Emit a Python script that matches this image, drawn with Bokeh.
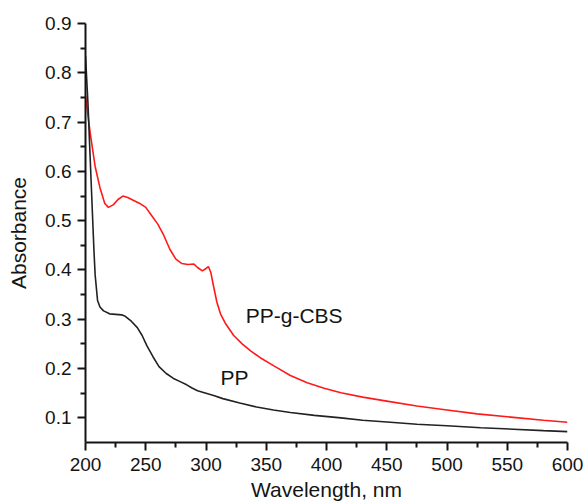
from bokeh.plotting import figure
from bokeh.models import Range1d, FixedTicker, Label
from bokeh.embed import file_html
from bokeh.resources import INLINE

# PP-g-CBS (red)
wl_cbs = [200, 204, 208, 212, 216, 219, 223, 227, 231, 235, 240, 245, 250, 255,
          260, 265, 270, 275, 280, 285, 290, 293, 297, 300, 302, 304, 306, 309,
          312, 316, 323, 330, 337, 345, 356, 370, 384, 398, 412, 430, 450, 475,
          500, 525, 555, 580, 600]
abs_cbs = [0.753, 0.676, 0.610, 0.567, 0.535, 0.527, 0.532, 0.543, 0.550, 0.547,
           0.541, 0.535, 0.527, 0.510, 0.493, 0.470, 0.442, 0.422, 0.413, 0.411,
           0.412, 0.405, 0.398, 0.403, 0.407, 0.395, 0.370, 0.335, 0.311, 0.292,
           0.267, 0.250, 0.236, 0.222, 0.206, 0.186, 0.171, 0.160, 0.151, 0.142,
           0.134, 0.124, 0.116, 0.108, 0.101, 0.095, 0.091]

# PP (black)
wl_pp = [200, 202, 204, 206, 207, 208, 210, 212, 215, 220, 225, 230, 233, 238,
         243, 247, 251, 256, 261, 267, 273, 279, 284, 288, 293, 300, 307, 314,
         328, 342, 356, 370, 390, 412, 430, 453, 475, 500, 528, 555, 580, 600]
abs_pp = [0.834, 0.740, 0.620, 0.500, 0.440, 0.390, 0.338, 0.325, 0.317, 0.311,
          0.310, 0.309, 0.306, 0.296, 0.283, 0.267, 0.246, 0.224, 0.204, 0.190,
          0.180, 0.173, 0.167, 0.161, 0.155, 0.150, 0.145, 0.139, 0.130, 0.122,
          0.116, 0.111, 0.105, 0.100, 0.095, 0.091, 0.087, 0.084, 0.080, 0.077,
          0.074, 0.072]

x_ticks = [200, 250, 300, 350, 400, 450, 500, 550, 600]
x_minor = [225, 275, 325, 375, 425, 475, 525, 575]
y_ticks = [0.1, 0.2, 0.3, 0.4, 0.5, 0.6, 0.7, 0.8, 0.9]
y_minor = [0.15, 0.25, 0.35, 0.45, 0.55, 0.65, 0.75, 0.85]

FONT = "Liberation Sans"
TXT = "#141414"

p = figure(width=585, height=503, output_backend="svg", toolbar_location=None,
           x_range=Range1d(200, 600), y_range=Range1d(0.05, 0.9),
           min_border_left=85, min_border_right=18, min_border_top=23,
           min_border_bottom=61)
p.outline_line_color = None
p.xgrid.visible = False
p.ygrid.visible = False
p.background_fill_color = "white"

p.line(wl_cbs, abs_cbs, line_color="#ff1a1a", line_width=1.6)
p.line(wl_pp, abs_pp, line_color="#222222", line_width=1.6)

p.xaxis.ticker = FixedTicker(ticks=x_ticks, minor_ticks=x_minor)
p.yaxis.ticker = FixedTicker(ticks=y_ticks, minor_ticks=y_minor)
p.yaxis.formatter.use_scientific = False

for ax in (p.xaxis, p.yaxis):
    ax.axis_line_width = 2
    ax.axis_line_color = TXT
    ax.major_tick_line_width = 2
    ax.minor_tick_line_width = 2
    ax.major_tick_line_color = TXT
    ax.minor_tick_line_color = TXT
    ax.major_tick_in = 0
    ax.minor_tick_in = 0
    ax.major_tick_out = 8
    ax.minor_tick_out = 5
    ax.major_label_text_font = FONT
    ax.major_label_text_font_size = "19px"
    ax.major_label_text_color = TXT
    ax.axis_label_text_font = FONT
    ax.axis_label_text_font_size = "21px"
    ax.axis_label_text_font_style = "normal"
    ax.axis_label_text_color = TXT

p.xaxis.axis_label = "Wavelength, nm"
p.yaxis.axis_label = "Absorbance"
p.xaxis.major_label_standoff = 7
p.xaxis.axis_label_standoff = 4
p.yaxis.major_label_standoff = 6
p.yaxis.axis_label_standoff = 12

p.add_layout(Label(x=333, y=0.307, text="PP-g-CBS", text_font=FONT,
                   text_font_size="21px", text_color=TXT, text_baseline="middle"))
p.add_layout(Label(x=312, y=0.181, text="PP", text_font=FONT,
                   text_font_size="21px", text_color=TXT, text_baseline="middle"))

open("out.html", "w").write(file_html(p, INLINE))
